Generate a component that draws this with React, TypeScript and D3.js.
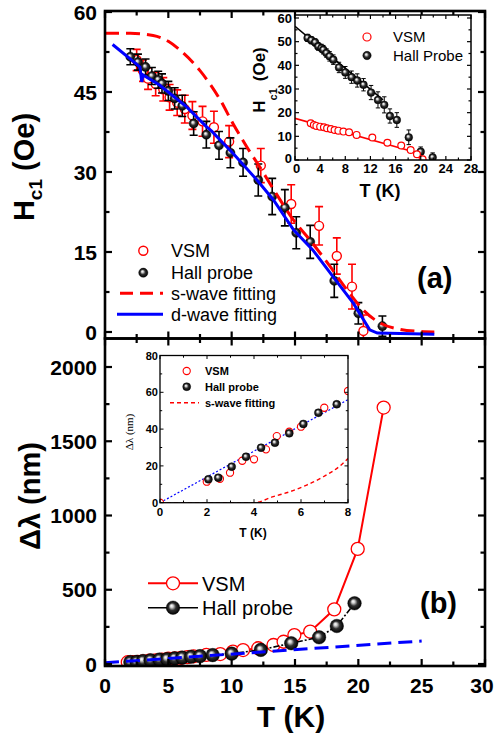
import React from 'react';
import * as d3 from 'd3';

// ---------- DATA ----------
// Top panel / top inset: Hall probe Hc1 (Oe)
const hallT = [2.0, 2.6, 3.2, 3.7, 4.2, 4.5, 5.0, 5.5, 6.1, 7.0, 8.0, 9.0, 9.9, 10.9, 12.1, 13.2, 14.2, 15.1, 16.2, 18.1, 20.0, 21.9];
const hallH = [51.6, 50.6, 49.7, 48.0, 47.3, 46.6, 45.2, 43.8, 42.4, 39.1, 37.0, 35.0, 33.6, 31.8, 28.5, 25.4, 23.3, 18.6, 16.9, 9.6, 3.5, 1.1];
const hallErr = [1.5, 1.5, 1.5, 1.6, 1.6, 1.8, 1.8, 2.0, 2.0, 2.2, 2.5, 2.6, 2.8, 2.6, 3.0, 3.4, 3.4, 3.0, 3.1, 3.1, 2.0, 1.9];

// Top panel: VSM Hc1 (Oe)
const vsmT = [2.5, 3.0, 3.4, 4.0, 4.6, 5.1, 5.7, 6.3, 6.9, 7.7, 8.6, 9.8, 12.3, 14.7, 16.9, 18.3, 19.5, 20.4];
const vsmH = [51.0, 49.0, 47.5, 46.5, 45.5, 44.0, 43.0, 41.8, 40.6, 39.5, 38.4, 35.7, 31.2, 24.0, 19.9, 14.25, 8.5, 0.2];
const vsmErr = [2.0, 2.0, 2.0, 2.2, 2.2, 2.4, 2.4, 2.6, 2.6, 2.8, 3.0, 3.0, 3.2, 3.6, 3.6, 3.4, 4.2, 3.0];

// Top inset: VSM Hc1 (Oe)
const vsmInT = [2.5, 3.0, 3.4, 4.0, 4.6, 5.1, 5.7, 6.3, 6.9, 7.7, 8.6, 9.8, 12.3, 14.7, 16.9, 18.4, 19.4, 20.3];
const vsmInH = [15.5, 14.8, 14.4, 14.1, 13.8, 13.4, 13.1, 12.7, 12.4, 12.0, 11.7, 10.6, 9.5, 7.3, 6.1, 4.2, 2.4, 0.3];
const hallFitT = [0, 14.0];
const hallFitH = [56.5, 25.4];
const vsmFitT = [0, 18.7];
const vsmFitH = [17.6, 3.6];

// Top panel fits
const sWaveT = [0, 2, 3.8, 5.0, 5.9, 7.5, 9.1, 10.1, 11.2, 12.2, 13.5, 14.7, 16.4, 17.8, 19.1, 20.4, 21.7, 23.3, 24.9, 26];
const sWaveH = [56, 56, 55.6, 54.5, 52.9, 49, 43.5, 39.1, 34.7, 31, 26, 21.6, 16.6, 12.2, 7.9, 4.1, 1.7, 0.5, 0.1, 0];
const dWaveT = [0.6, 2.76, 2.9, 3.0, 4.3, 6.45, 8.0, 8.4, 10.1, 12.0, 13.3, 14.9, 16.4, 18.0, 19.6, 20.9, 21.5, 26];
const dWaveH = [53.9, 49.7, 46.9, 48.2, 46.3, 42.2, 38.5, 37.7, 33.5, 28.5, 24.75, 19.1, 15.4, 10.4, 5.4, 0.4, -0.2, -0.4];

// Bottom panel: delta lambda (nm)
const vsmLamT = [1.8, 2.2, 2.6, 3.0, 3.5, 4.0, 4.5, 5.0, 5.5, 6.0, 6.5, 7.0, 8.0, 9.1, 10.1, 10.9, 12.1, 13.3, 14.1, 14.95, 16.2, 18.1, 19.95, 22.0];
const vsmLam = [12, 13, 14, 17, 23, 24, 29, 36, 38, 41, 46, 52, 61, 67, 83, 94, 106, 128, 150, 195, 218, 368, 775, 1727];
const hallLamT = [2.0, 2.5, 3.0, 3.6, 4.3, 4.9, 5.5, 6.1, 6.8, 7.5, 8.5, 10.0, 12.3, 14.7, 16.9, 18.3, 19.7];
const hallLam = [13, 14, 20, 25, 30, 33, 38, 43, 49, 53, 60, 70, 95, 140, 180, 256, 409];
const dLamT = [0, 25];
const dLam = [8, 155];

// Bottom inset
const insVsmT = [0, 1.99, 2.55, 2.98, 3.5, 4.0, 4.51, 4.97, 5.5, 6.0, 6.99, 8.0];
const insVsm = [0, 11.4, 13.0, 16.3, 22.8, 23.6, 29.0, 36.2, 38.6, 41.3, 51.6, 60.7];
const insHallT = [2.06, 2.48, 3.05, 3.66, 4.3, 4.89, 5.5, 6.1, 6.74, 7.52];
const insHall = [12.7, 13.6, 19.6, 25.0, 29.9, 32.6, 37.7, 42.8, 48.9, 53.5];
const insSwT = [0, 4.0, 4.82, 5.53, 6.24, 6.95, 7.66, 8.0];
const insSw = [0, 0, 3.3, 6.0, 9.6, 14.1, 20.0, 24.0];
const insDT = [0, 8];
const insD = [0, 56];

// tick values
const mainXMajor = [0, 5, 10, 15, 20, 25, 30];
const mainXMinor = [2.5, 7.5, 12.5, 17.5, 22.5, 27.5];
const topYMajor = [0, 15, 30, 45, 60];
const topYMinor = [7.5, 22.5, 37.5, 52.5];
const botYMajor = [0, 500, 1000, 1500, 2000];
const botYMinor = [250, 750, 1250, 1750, 2250];
const in1XMajor = [0, 4, 8, 12, 16, 20, 24, 28];
const in1XMinor = [2, 6, 10, 14, 18, 22, 26];
const in1YMajor = [0, 10, 20, 30, 40, 50, 60];
const in1YMinor = [5, 15, 25, 35, 45, 55];
const in2XMajor = [0, 2, 4, 6, 8];
const in2XMinor = [1, 3, 5, 7];
const in2YMajor = [0, 20, 40, 60, 80];
const in2YMinor = [10, 30, 50, 70];

// ---------- LAYOUT ----------
const FONT = "'Liberation Sans', Arial, Helvetica, sans-serif";
const RED = '#ff0000';
const BLUE = '#0000ff';

const X0 = 105, X1 = 485;
const TOP_Y0 = 11, TOP_Y1 = 338.5;
const BOT_Y0 = 338.5, BOT_Y1 = 666;
const xMain = d3.scaleLinear().domain([0, 30]).range([X0, X1]);
const yTop = d3.scaleLinear().domain([0, 60]).range([332, 12]);
const yBot = d3.scaleLinear().domain([0, 2000]).range([664, 367]);

const I1 = { x0: 295, x1: 471, y0: 15, y1: 160 };
const xIn1 = d3.scaleLinear().domain([0, 28]).range([I1.x0, I1.x1]);
const yIn1 = d3.scaleLinear().domain([0, 60]).range([160, 18]);

const I2 = { x0: 160, x1: 348, y0: 355.5, y1: 502.7 };
const xIn2 = d3.scaleLinear().domain([0, 8]).range([I2.x0, I2.x1]);
const yIn2 = d3.scaleLinear().domain([0, 80]).range([502.7, 355.5]);

type Sc = d3.ScaleLinear<number, number>;

function Ticks(p: { x0: number; x1: number; y0: number; y1: number; xs: Sc; ys: Sc; xMaj: number[]; xMin: number[]; yMaj: number[]; yMin: number[]; maj: number; min: number; sw: number }) {
  const out: any[] = [];
  const addX = (v: number, len: number, k: string) => {
    const x = p.xs(v);
    if (x < p.x0 - 0.5 || x > p.x1 + 0.5) return;
    out.push(<line key={'xb' + k} x1={x} x2={x} y1={p.y1} y2={p.y1 - len} />);
    out.push(<line key={'xt' + k} x1={x} x2={x} y1={p.y0} y2={p.y0 + len} />);
  };
  const addY = (v: number, len: number, k: string) => {
    const y = p.ys(v);
    if (y < p.y0 - 0.5 || y > p.y1 + 0.5) return;
    out.push(<line key={'yl' + k} x1={p.x0} x2={p.x0 + len} y1={y} y2={y} />);
    out.push(<line key={'yr' + k} x1={p.x1} x2={p.x1 - len} y1={y} y2={y} />);
  };
  p.xMaj.forEach((v, i) => addX(v, p.maj, 'M' + i));
  p.xMin.forEach((v, i) => addX(v, p.min, 'm' + i));
  p.yMaj.forEach((v, i) => addY(v, p.maj, 'M' + i));
  p.yMin.forEach((v, i) => addY(v, p.min, 'm' + i));
  return <g stroke="#000" strokeWidth={p.sw}>{out}</g>;
}

function linePath(xs: Sc, ys: Sc, T: number[], V: number[], curve?: any) {
  const l = d3.line<number>().x((_, i) => xs(T[i])).y((v) => ys(v));
  if (curve) l.curve(curve);
  return l(V) || '';
}

function Ball({ cx, cy, r }: { cx: number; cy: number; r: number }) {
  return <circle cx={cx} cy={cy} r={r} fill="url(#ball)" stroke="#000" strokeWidth={0.4} />;
}

export default function App() {
  return (
    <svg width={495} height={738} style={{ position: 'absolute', left: 0, top: 0, background: '#fff' }} fontFamily={FONT}>
      <defs>
        <radialGradient id="ball" cx="0.5" cy="0.5" r="0.5" fx="0.38" fy="0.35">
          <stop offset="0" stopColor="#ffffff" />
          <stop offset="0.22" stopColor="#d0d0d0" />
          <stop offset="0.55" stopColor="#303030" />
          <stop offset="1" stopColor="#000000" />
        </radialGradient>
        <clipPath id="clipTop"><rect x={X0} y={TOP_Y0} width={X1 - X0} height={TOP_Y1 - TOP_Y0} /></clipPath>
        <clipPath id="clipBot"><rect x={X0} y={BOT_Y0} width={X1 - X0} height={BOT_Y1 - BOT_Y0} /></clipPath>
        <clipPath id="clipIn1"><rect x={I1.x0} y={I1.y0} width={I1.x1 - I1.x0} height={I1.y1 - I1.y0} /></clipPath>
        <clipPath id="clipIn2"><rect x={I2.x0} y={I2.y0} width={I2.x1 - I2.x0} height={I2.y1 - I2.y0} /></clipPath>
      </defs>
      <rect x={0} y={0} width={495} height={738} fill="#fff" />

      {/* ================= TOP PANEL ================= */}
      <g clipPath="url(#clipTop)">
        <g stroke={RED} strokeWidth={1.6}>
          {vsmT.map((t, i) => {
            const x = xMain(t), ya = yTop(vsmH[i] + vsmErr[i]), yb = yTop(vsmH[i] - vsmErr[i]);
            return (
              <g key={'ve' + i}>
                <line x1={x} x2={x} y1={ya} y2={yb} />
                <line x1={x - 4} x2={x + 4} y1={ya} y2={ya} />
                <line x1={x - 4} x2={x + 4} y1={yb} y2={yb} />
              </g>
            );
          })}
        </g>
        {vsmT.map((t, i) => (
          <circle key={'vc' + i} cx={xMain(t)} cy={yTop(vsmH[i])} r={4.5} fill="#fff" stroke={RED} strokeWidth={1.4} />
        ))}
        <g stroke="#000" strokeWidth={1.6}>
          {hallT.map((t, i) => {
            const x = xMain(t), ya = yTop(hallH[i] + hallErr[i]), yb = yTop(hallH[i] - hallErr[i]);
            return (
              <g key={'he' + i}>
                <line x1={x} x2={x} y1={ya} y2={yb} />
                <line x1={x - 4} x2={x + 4} y1={ya} y2={ya} />
                <line x1={x - 4} x2={x + 4} y1={yb} y2={yb} />
              </g>
            );
          })}
        </g>
        {hallT.map((t, i) => (
          <Ball key={'hb' + i} cx={xMain(t)} cy={yTop(hallH[i])} r={4.6} />
        ))}
        <path d={linePath(xMain, yTop, sWaveT, sWaveH, d3.curveMonotoneX)} fill="none" stroke={RED} strokeWidth={3} strokeDasharray="14,7" />
        <path d={linePath(xMain, yTop, dWaveT, dWaveH)} fill="none" stroke={BLUE} strokeWidth={3} />
      </g>

      {/* top legend */}
      <circle cx={143.3} cy={250.7} r={4.5} fill="#fff" stroke={RED} strokeWidth={1.4} />
      <text x={171} y={257} fontSize={18}>VSM</text>
      <Ball cx={143.3} cy={272.7} r={4.6} />
      <text x={171} y={279} fontSize={18}>Hall probe</text>
      <line x1={120} x2={163} y1={293.3} y2={293.3} stroke={RED} strokeWidth={3} strokeDasharray="13,7" />
      <text x={171} y={299.5} fontSize={18}>s-wave fitting</text>
      <line x1={117} x2={163} y1={314.3} y2={314.3} stroke={BLUE} strokeWidth={3} />
      <text x={171} y={320.5} fontSize={18}>d-wave fitting</text>
      <text x={417} y={288} fontSize={29} fontWeight="bold">(a)</text>

      {/* top axes */}
      <Ticks x0={X0} x1={X1} y0={TOP_Y0} y1={TOP_Y1} xs={xMain} ys={yTop} xMaj={mainXMajor} xMin={mainXMinor} yMaj={topYMajor} yMin={topYMinor} maj={7} min={4.5} sw={2.2} />
      <rect x={X0} y={TOP_Y0} width={X1 - X0} height={TOP_Y1 - TOP_Y0} fill="none" stroke="#000" strokeWidth={2.6} />
      {topYMajor.map((v) => (
        <text key={'tyl' + v} x={97} y={yTop(v) + 7.5} fontSize={21} fontWeight="bold" textAnchor="end">{v}</text>
      ))}
      <text transform="translate(34,167) rotate(-90)" textAnchor="middle" fontSize={29} fontWeight="bold">
        H<tspan fontSize={19} dy={8}>c1</tspan><tspan dy={-8}> (Oe)</tspan>
      </text>

      {/* ================= TOP INSET ================= */}
      <rect x={I1.x0} y={I1.y0} width={I1.x1 - I1.x0} height={I1.y1 - I1.y0} fill="#fff" />
      <g clipPath="url(#clipIn1)">
        <path d={linePath(xIn1, yIn1, hallFitT, hallFitH)} stroke="#000" strokeWidth={1.6} fill="none" />
        <path d={linePath(xIn1, yIn1, vsmFitT, vsmFitH)} stroke={RED} strokeWidth={1.6} fill="none" />
        <g stroke="#000" strokeWidth={1}>
          {hallT.map((t, i) => {
            const x = xIn1(t), ya = yIn1(hallH[i] + hallErr[i]), yb = yIn1(hallH[i] - hallErr[i]);
            return (
              <g key={'ihe' + i}>
                <line x1={x} x2={x} y1={ya} y2={yb} />
                <line x1={x - 2.2} x2={x + 2.2} y1={ya} y2={ya} />
                <line x1={x - 2.2} x2={x + 2.2} y1={yb} y2={yb} />
              </g>
            );
          })}
        </g>
        {hallT.map((t, i) => (
          <Ball key={'ihb' + i} cx={xIn1(t)} cy={yIn1(hallH[i])} r={3.9} />
        ))}
        {vsmInT.map((t, i) => (
          <circle key={'ivc' + i} cx={xIn1(t)} cy={yIn1(vsmInH[i])} r={3.4} fill="#fff" stroke={RED} strokeWidth={1.2} />
        ))}
      </g>
      <Ticks x0={I1.x0} x1={I1.x1} y0={I1.y0} y1={I1.y1} xs={xIn1} ys={yIn1} xMaj={in1XMajor} xMin={in1XMinor} yMaj={in1YMajor} yMin={in1YMinor} maj={4} min={2.5} sw={1.2} />
      <rect x={I1.x0} y={I1.y0} width={I1.x1 - I1.x0} height={I1.y1 - I1.y0} fill="none" stroke="#000" strokeWidth={1.5} />
      {in1YMajor.map((v) => (
        <text key={'i1y' + v} x={292} y={yIn1(v) + (v === 0 ? 2.5 : 4.5)} fontSize={13} fontWeight="bold" textAnchor="end">{v}</text>
      ))}
      {in1XMajor.map((v) => (
        <text key={'i1x' + v} x={xIn1(v) + (v === 0 ? 1.5 : 0)} y={173} fontSize={13} fontWeight="bold" textAnchor="middle">{v}</text>
      ))}
      <text x={380} y={197} fontSize={18} fontWeight="bold" textAnchor="middle">T (K)</text>
      <text transform="translate(265,80) rotate(-90)" textAnchor="middle" fontSize={17} fontWeight="bold">
        H<tspan fontSize={11} dy={12}>c1</tspan><tspan dy={-12} dx={7}>(Oe)</tspan>
      </text>
      <circle cx={367} cy={37} r={4} fill="#fff" stroke={RED} strokeWidth={1.2} />
      <text x={393} y={42} fontSize={15}>VSM</text>
      <Ball cx={367} cy={55.5} r={4.2} />
      <text x={393} y={60.5} fontSize={15}>Hall Probe</text>

      {/* ================= BOTTOM PANEL ================= */}
      <g clipPath="url(#clipBot)">
        <path d={linePath(xMain, yBot, vsmLamT, vsmLam)} fill="none" stroke={RED} strokeWidth={2} />
        {vsmLamT.map((t, i) => (
          <circle key={'bvc' + i} cx={xMain(t)} cy={yBot(vsmLam[i])} r={6.5} fill="#fff" stroke={RED} strokeWidth={1.3} />
        ))}
        <path d={linePath(xMain, yBot, hallLamT, hallLam)} fill="none" stroke="#000" strokeWidth={1.6} strokeDasharray="6,2,2,2" />
        {hallLamT.map((t, i) => (
          <Ball key={'bhb' + i} cx={xMain(t)} cy={yBot(hallLam[i])} r={6.8} />
        ))}
        <path d={linePath(xMain, yBot, dLamT, dLam)} fill="none" stroke={BLUE} strokeWidth={3} strokeDasharray="14,7" />
      </g>

      {/* bottom legend */}
      <line x1={148} x2={198} y1={583.3} y2={583.3} stroke={RED} strokeWidth={2} />
      <circle cx={173} cy={583.3} r={6.5} fill="#fff" stroke={RED} strokeWidth={1.3} />
      <text x={202} y={590.5} fontSize={20}>VSM</text>
      <line x1={148} x2={198} y1={607.7} y2={607.7} stroke="#000" strokeWidth={1.6} />
      <Ball cx={173} cy={607.7} r={6.8} />
      <text x={202} y={615} fontSize={20}>Hall probe</text>
      <text x={420} y={613} fontSize={29} fontWeight="bold">(b)</text>

      <Ticks x0={X0} x1={X1} y0={BOT_Y0} y1={BOT_Y1} xs={xMain} ys={yBot} xMaj={mainXMajor} xMin={mainXMinor} yMaj={botYMajor} yMin={botYMinor} maj={7} min={4.5} sw={2.2} />
      <rect x={X0} y={BOT_Y0} width={X1 - X0} height={BOT_Y1 - BOT_Y0} fill="none" stroke="#000" strokeWidth={2.6} />
      {botYMajor.map((v) => (
        <text key={'byl' + v} x={97} y={yBot(v) + 7.5} fontSize={21} fontWeight="bold" textAnchor="end">{v}</text>
      ))}
      {mainXMajor.map((v) => (
        <text key={'bxl' + v} x={Math.min(xMain(v), 482)} y={693} fontSize={21} fontWeight="bold" textAnchor="middle">{v}</text>
      ))}
      <text transform="translate(40,496) rotate(-90)" textAnchor="middle" fontSize={29} fontWeight="bold">Δλ (nm)</text>
      <text x={291} y={727} fontSize={30} fontWeight="bold" textAnchor="middle">T (K)</text>

      {/* ================= BOTTOM INSET ================= */}
      <rect x={I2.x0} y={I2.y0} width={I2.x1 - I2.x0} height={I2.y1 - I2.y0} fill="#fff" />
      <g clipPath="url(#clipIn2)">
        <path d={linePath(xIn2, yIn2, insDT, insD)} fill="none" stroke={BLUE} strokeWidth={1.2} strokeDasharray="2,2" />
        <path d={linePath(xIn2, yIn2, insSwT, insSw, d3.curveMonotoneX)} fill="none" stroke={RED} strokeWidth={1.4} strokeDasharray="4,3" />
        {insVsmT.map((t, i) => (
          <circle key={'i2v' + i} cx={xIn2(t)} cy={yIn2(insVsm[i])} r={3.6} fill="#fff" stroke={RED} strokeWidth={1.1} />
        ))}
        {insHallT.map((t, i) => (
          <Ball key={'i2h' + i} cx={xIn2(t)} cy={yIn2(insHall[i])} r={4} />
        ))}
      </g>
      <Ticks x0={I2.x0} x1={I2.x1} y0={I2.y0} y1={I2.y1} xs={xIn2} ys={yIn2} xMaj={in2XMajor} xMin={in2XMinor} yMaj={in2YMajor} yMin={in2YMinor} maj={3.5} min={2.2} sw={1} />
      <rect x={I2.x0} y={I2.y0} width={I2.x1 - I2.x0} height={I2.y1 - I2.y0} fill="none" stroke="#000" strokeWidth={1.3} />
      {in2YMajor.map((v) => (
        <text key={'i2y' + v} x={158} y={yIn2(v) + 4} fontSize={11} fontWeight="bold" textAnchor="end">{v}</text>
      ))}
      {in2XMajor.map((v) => (
        <text key={'i2x' + v} x={xIn2(v)} y={516} fontSize={11.5} fontWeight="bold" textAnchor="middle">{v}</text>
      ))}
      <text x={253} y={537} fontSize={12} fontWeight="bold" textAnchor="middle">T (K)</text>
      <text transform="translate(133,432) rotate(-90)" textAnchor="middle" fontSize={11} fontFamily="'Liberation Serif', 'Times New Roman', serif">Δλ (nm)</text>
      <circle cx={186.7} cy={371} r={3.6} fill="#fff" stroke={RED} strokeWidth={1.1} />
      <text x={205} y={375} fontSize={11} fontWeight="bold">VSM</text>
      <Ball cx={186.7} cy={386.7} r={4} />
      <text x={205} y={390.7} fontSize={11} fontWeight="bold">Hall probe</text>
      <line x1={170} x2={199} y1={402.7} y2={402.7} stroke={RED} strokeWidth={1.4} strokeDasharray="4,3" />
      <text x={205} y={406.7} fontSize={11} fontWeight="bold">s-wave fitting</text>
    </svg>
  );
}
